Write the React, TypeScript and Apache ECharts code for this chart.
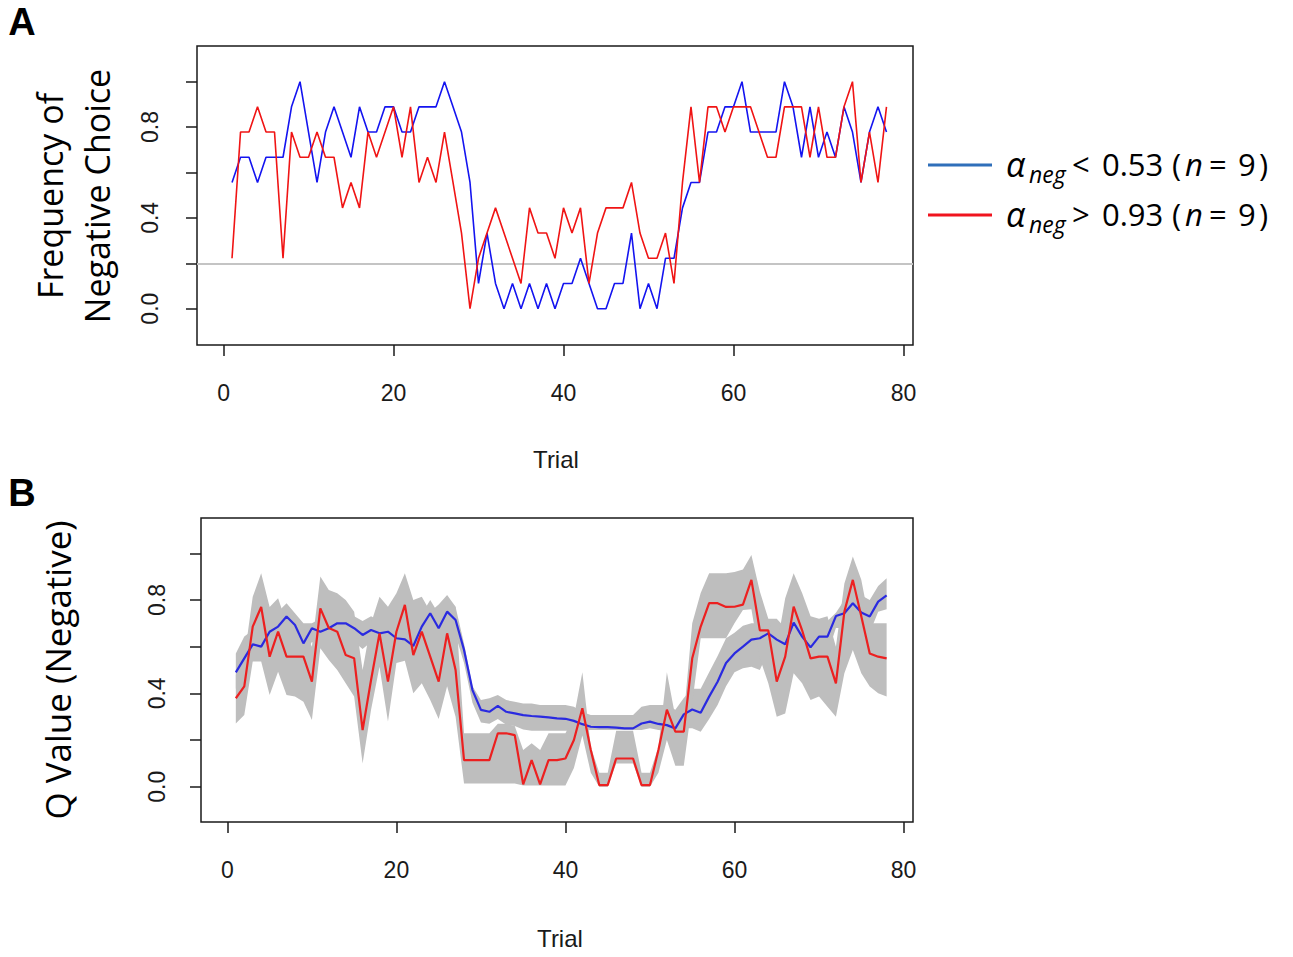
import React, { useEffect, useRef } from "react";
import * as echarts from "echarts";

// ---------- data ----------
const trials: number[] = Array.from({ length: 78 }, (_, i) => i + 1);
const xTicks = [0, 20, 40, 60, 80];
const yTicks = [0, 0.2, 0.4, 0.6, 0.8, 1.0];
const yLabels = [0, 0.4, 0.8];

// Panel A: frequency of negative choice
const freqLow = [
  0.556, 0.667, 0.667, 0.556, 0.667, 0.667, 0.667, 0.889, 1.0, 0.778,
  0.556, 0.778, 0.889, 0.778, 0.667, 0.889, 0.778, 0.778, 0.889, 0.889,
  0.778, 0.778, 0.889, 0.889, 0.889, 1.0, 0.889, 0.778, 0.556, 0.111,
  0.333, 0.111, 0.0, 0.111, 0.0, 0.111, 0.0, 0.111, 0.0, 0.111,
  0.111, 0.222, 0.111, 0.0, 0.0, 0.111, 0.111, 0.333, 0.0, 0.111,
  0.0, 0.222, 0.222, 0.444, 0.556, 0.556, 0.778, 0.778, 0.889, 0.889,
  1.0, 0.778, 0.778, 0.778, 0.778, 1.0, 0.889, 0.667, 0.889, 0.667,
  0.778, 0.667, 0.889, 0.778, 0.556, 0.778, 0.889, 0.778,
];
const freqHigh = [
  0.222, 0.778, 0.778, 0.889, 0.778, 0.778, 0.222, 0.778, 0.667, 0.667,
  0.778, 0.667, 0.667, 0.444, 0.556, 0.444, 0.778, 0.667, 0.778, 0.889,
  0.667, 0.889, 0.556, 0.667, 0.556, 0.778, 0.556, 0.333, 0.0, 0.222,
  0.333, 0.444, 0.333, 0.222, 0.111, 0.444, 0.333, 0.333, 0.222, 0.444,
  0.333, 0.444, 0.111, 0.333, 0.444, 0.444, 0.444, 0.556, 0.333, 0.222,
  0.222, 0.333, 0.111, 0.556, 0.889, 0.556, 0.889, 0.889, 0.778, 0.889,
  0.889, 0.889, 0.778, 0.667, 0.667, 0.889, 0.889, 0.889, 0.667, 0.889,
  0.667, 0.667, 0.889, 1.0, 0.556, 0.778, 0.556, 0.889,
];
const chanceLevel = 0.2;

// Panel B: Q value (negative)
const qLow = [
  0.49, 0.55, 0.61, 0.60, 0.664, 0.686, 0.729, 0.693, 0.614, 0.679,
  0.664, 0.679, 0.70, 0.70, 0.679, 0.65, 0.671, 0.657, 0.664, 0.636,
  0.631, 0.603, 0.686, 0.743, 0.679, 0.75, 0.714, 0.586, 0.414, 0.329,
  0.321, 0.346, 0.321, 0.314, 0.307, 0.303, 0.30, 0.297, 0.293, 0.291,
  0.282, 0.268, 0.257, 0.255, 0.255, 0.253, 0.25, 0.25, 0.271, 0.279,
  0.269, 0.264, 0.25, 0.31, 0.331, 0.317, 0.386, 0.45, 0.53, 0.571,
  0.60, 0.63, 0.636, 0.657, 0.63, 0.61, 0.703, 0.643, 0.597, 0.643,
  0.643, 0.731, 0.743, 0.786, 0.746, 0.729, 0.793, 0.82,
];
const qLowUpper = [
  0.571, 0.643, 0.67, 0.68, 0.72, 0.75, 0.786, 0.743, 0.70, 0.70,
  0.72, 0.73, 0.75, 0.75, 0.73, 0.71, 0.73, 0.71, 0.72, 0.69,
  0.68, 0.66, 0.74, 0.80, 0.74, 0.81, 0.77, 0.614, 0.43, 0.371,
  0.379, 0.393, 0.371, 0.364, 0.357, 0.357, 0.35, 0.35, 0.35, 0.35,
  0.343, 0.32, 0.307, 0.307, 0.307, 0.307, 0.307, 0.307, 0.343, 0.35,
  0.35, 0.35, 0.33, 0.38, 0.42, 0.42, 0.49, 0.56, 0.636, 0.66,
  0.69, 0.70, 0.70, 0.72, 0.72, 0.68, 0.77, 0.71, 0.66, 0.71,
  0.71, 0.745, 0.80, 0.85, 0.82, 0.80, 0.86, 0.893,
];
const qLowLower = [
  0.42, 0.48, 0.54, 0.55, 0.60, 0.63, 0.67, 0.64, 0.56, 0.62,
  0.61, 0.62, 0.64, 0.64, 0.62, 0.59, 0.62, 0.60, 0.60, 0.58,
  0.57, 0.54, 0.62, 0.68, 0.62, 0.69, 0.65, 0.53, 0.36, 0.275,
  0.27, 0.29, 0.265, 0.26, 0.245, 0.24, 0.24, 0.24, 0.24, 0.24,
  0.24, 0.24, 0.243, 0.243, 0.243, 0.243, 0.243, 0.243, 0.243, 0.25,
  0.243, 0.24, 0.235, 0.25, 0.25, 0.236, 0.29, 0.35, 0.43, 0.49,
  0.507, 0.514, 0.50, 0.58, 0.56, 0.54, 0.63, 0.57, 0.53, 0.57,
  0.57, 0.68, 0.68, 0.72, 0.68, 0.66, 0.75, 0.76,
];
const qHigh = [
  0.379, 0.43, 0.686, 0.77, 0.557, 0.664, 0.557, 0.557, 0.557, 0.45,
  0.764, 0.68, 0.664, 0.564, 0.55, 0.243, 0.457, 0.657, 0.45, 0.664,
  0.779, 0.564, 0.664, 0.557, 0.45, 0.657, 0.50, 0.114, 0.114, 0.114,
  0.114, 0.229, 0.229, 0.221, 0.01, 0.114, 0.01, 0.114, 0.114, 0.121,
  0.20, 0.336, 0.157, 0.007, 0.007, 0.121, 0.121, 0.121, 0.007, 0.007,
  0.157, 0.33, 0.236, 0.236, 0.55, 0.686, 0.786, 0.786, 0.77, 0.771,
  0.78, 0.886, 0.67, 0.67, 0.45, 0.557, 0.771, 0.67, 0.55, 0.557,
  0.557, 0.443, 0.75, 0.886, 0.73, 0.571, 0.557, 0.55,
];
const qHighUpper = [
  0.48, 0.55, 0.814, 0.914, 0.77, 0.807, 0.70, 0.68, 0.68, 0.60,
  0.90, 0.843, 0.829, 0.80, 0.75, 0.50, 0.70, 0.814, 0.771, 0.829,
  0.914, 0.80, 0.814, 0.75, 0.78, 0.821, 0.771, 0.229, 0.229, 0.229,
  0.229, 0.27, 0.27, 0.26, 0.157, 0.186, 0.157, 0.229, 0.229, 0.229,
  0.30, 0.49, 0.17, 0.06, 0.06, 0.24, 0.24, 0.24, 0.06, 0.06,
  0.17, 0.49, 0.30, 0.30, 0.70, 0.83, 0.914, 0.914, 0.914, 0.92,
  0.93, 0.993, 0.836, 0.72, 0.60, 0.807, 0.914, 0.83, 0.73, 0.72,
  0.73, 0.60, 0.871, 0.986, 0.886, 0.70, 0.70, 0.70,
];
const qHighLower = [
  0.271, 0.307, 0.536, 0.536, 0.393, 0.493, 0.393, 0.386, 0.364, 0.286,
  0.593, 0.543, 0.50, 0.443, 0.386, 0.10, 0.33, 0.514, 0.279, 0.53,
  0.54, 0.40, 0.443, 0.371, 0.29, 0.43, 0.30, 0.014, 0.014, 0.014,
  0.014, 0.014, 0.014, 0.014, 0.005, 0.005, 0.005, 0.005, 0.005, 0.005,
  0.08, 0.22, 0.06, 0.0, 0.0, 0.10, 0.10, 0.10, 0.0, 0.0,
  0.06, 0.20, 0.09, 0.09, 0.36, 0.636, 0.636, 0.636, 0.636, 0.70,
  0.757, 0.76, 0.55, 0.443, 0.30, 0.314, 0.486, 0.443, 0.371, 0.386,
  0.343, 0.30, 0.486, 0.586, 0.486, 0.429, 0.40, 0.386,
];

const legendGroups = [
  { sign: "<", threshold: "0.53", color: "#2f6fba" },
  { sign: ">", threshold: "0.93", color: "#f0141e" },
];

// ---------- helpers ----------
const pairs = (ys: number[]) => trials.map((t, i) => [t, ys[i]]);

const axisFont = "'Liberation Sans', Arial, sans-serif";
const titleFont = "'Open Sans', 'Noto Sans', sans-serif";
const ink = "#1a1a1a";

function bandSeries(lower: number[], upper: number[], idx: number) {
  return {
    type: "custom",
    xAxisIndex: idx,
    yAxisIndex: idx,
    silent: true,
    z: 1,
    data: [[trials[0], lower[0]]],
    renderItem: (_params: any, api: any) => {
      const pts: number[][] = [];
      for (let i = 0; i < trials.length; i++) pts.push(api.coord([trials[i], upper[i]]));
      for (let i = trials.length - 1; i >= 0; i--) pts.push(api.coord([trials[i], lower[i]]));
      return { type: "polygon", shape: { points: pts }, style: { fill: "#bebebe", stroke: null } };
    },
  };
}

function xAxisFor(idx: number) {
  return {
    type: "value",
    gridIndex: idx,
    position: "bottom",
    min: -3.12,
    max: 81.12,
    axisLine: { show: false, onZero: false },
    splitLine: { show: false },
    axisTick: {
      show: true,
      inside: false,
      length: 11,
      customValues: xTicks,
      lineStyle: { color: ink, width: 1.5 },
    },
    axisLabel: {
      show: true,
      customValues: xTicks,
      margin: 36,
      fontSize: 23,
      fontFamily: axisFont,
      color: ink,
    },
  };
}

function yAxisFor(idx: number, min: number, max: number, margin: number) {
  return {
    type: "value",
    gridIndex: idx,
    position: "left",
    min,
    max,
    axisLine: { show: false, onZero: false },
    splitLine: { show: false },
    axisTick: {
      show: true,
      inside: false,
      length: 11,
      customValues: yTicks,
      lineStyle: { color: ink, width: 1.5 },
    },
    axisLabel: {
      show: true,
      customValues: yLabels,
      rotate: 90,
      margin,
      fontSize: 23,
      fontFamily: axisFont,
      color: ink,
      formatter: (v: number) => v.toFixed(1),
    },
  };
}

function text(x: number, y: number, s: string, opts: any = {}) {
  const { rotation, ...style } = opts;
  return {
    type: "text",
    x,
    y,
    rotation: rotation || 0,
    silent: true,
    style: {
      text: s,
      fill: ink,
      fontFamily: titleFont,
      fontSize: 32,
      textAlign: "center",
      textVerticalAlign: "middle",
      ...style,
    },
  };
}

export default function App() {
  const ref = useRef<HTMLDivElement>(null);

  useEffect(() => {
    if (!ref.current) return;
    const chart = echarts.init(ref.current, undefined, { renderer: "svg" });

    const legendGraphics: any[] = [];
    legendGroups.forEach((g, i) => {
      const cy = 164 + i * 50;
      const L = { textAlign: "left", fill: "#000" };
      legendGraphics.push({
        type: "line",
        silent: true,
        shape: { x1: 928, y1: cy + 1, x2: 992, y2: cy + 1 },
        style: { stroke: g.color, lineWidth: 3 },
      });
      legendGraphics.push(text(1006, cy, "\u03b1", { ...L, fontStyle: "italic", fontSize: 34 }));
      legendGraphics.push(text(1029, cy + 10, "neg", { ...L, fontStyle: "italic", fontSize: 23 }));
      legendGraphics.push(text(1072, cy, g.sign, { ...L, fontSize: 31 }));
      legendGraphics.push(text(1102, cy, g.threshold, { ...L, fontSize: 31 }));
      legendGraphics.push(text(1172, cy, "(", { ...L, fontSize: 31 }));
      legendGraphics.push(text(1185, cy, "n", { ...L, fontStyle: "italic", fontSize: 31 }));
      legendGraphics.push(text(1209, cy, "=", { ...L, fontSize: 31 }));
      legendGraphics.push(text(1238, cy, "9", { ...L, fontSize: 31 }));
      legendGraphics.push(text(1259, cy, ")", { ...L, fontSize: 31 }));
    });

    const option: any = {
      animation: false,
      backgroundColor: "#ffffff",
      grid: [
        { left: 197, top: 46, width: 716, height: 299, show: true, borderColor: ink, borderWidth: 1.5, backgroundColor: "transparent" },
        { left: 201, top: 518, width: 712, height: 304, show: true, borderColor: ink, borderWidth: 1.5, backgroundColor: "transparent" },
      ],
      xAxis: [xAxisFor(0), xAxisFor(1)],
      yAxis: [yAxisFor(0, -0.16, 1.157, 36), yAxisFor(1, -0.151, 1.151, 33)],
      series: [
        {
          type: "line",
          xAxisIndex: 0,
          yAxisIndex: 0,
          data: pairs(freqLow),
          showSymbol: false,
          lineStyle: { color: "#1414f0", width: 1.6 },
          z: 3,
          markLine: {
            silent: true,
            symbol: ["none", "none"],
            label: { show: false },
            lineStyle: { color: "#c4c4c4", width: 2, type: "solid" },
            data: [{ yAxis: chanceLevel }],
            z: 1,
          },
        },
        {
          type: "line",
          xAxisIndex: 0,
          yAxisIndex: 0,
          data: pairs(freqHigh),
          showSymbol: false,
          lineStyle: { color: "#f01414", width: 1.6 },
          z: 3,
        },
        bandSeries(qLowLower, qLowUpper, 1),
        bandSeries(qHighLower, qHighUpper, 1),
        {
          type: "line",
          xAxisIndex: 1,
          yAxisIndex: 1,
          data: pairs(qLow),
          showSymbol: false,
          lineStyle: { color: "#2a2ae0", width: 2.2 },
          z: 3,
        },
        {
          type: "line",
          xAxisIndex: 1,
          yAxisIndex: 1,
          data: pairs(qHigh),
          showSymbol: false,
          lineStyle: { color: "#ec2020", width: 2.2 },
          z: 4,
        },
      ],
      graphic: [
        text(22, 22, "A", { fontFamily: axisFont, fontWeight: "bold", fontSize: 38, fill: "#000" }),
        text(22, 493, "B", { fontFamily: axisFont, fontWeight: "bold", fontSize: 38, fill: "#000" }),
        text(50, 196, "Frequency of", { rotation: Math.PI / 2, fontSize: 34, fill: "#000" }),
        text(97, 196, "Negative Choice", { rotation: Math.PI / 2, fontSize: 34, fill: "#000" }),
        text(57, 670, "Q Value (Negative)", { rotation: Math.PI / 2, fontSize: 35, fill: "#000" }),
        text(556, 459, "Trial", { fontFamily: axisFont, fontSize: 24 }),
        text(560, 938, "Trial", { fontFamily: axisFont, fontSize: 24 }),
        ...legendGraphics,
      ],
    };

    chart.setOption(option);
    return () => chart.dispose();
  }, []);

  return (
    <div
      ref={ref}
      style={{ position: "absolute", left: 0, top: 0, width: 1293, height: 957, background: "#fff" }}
    />
  );
}
